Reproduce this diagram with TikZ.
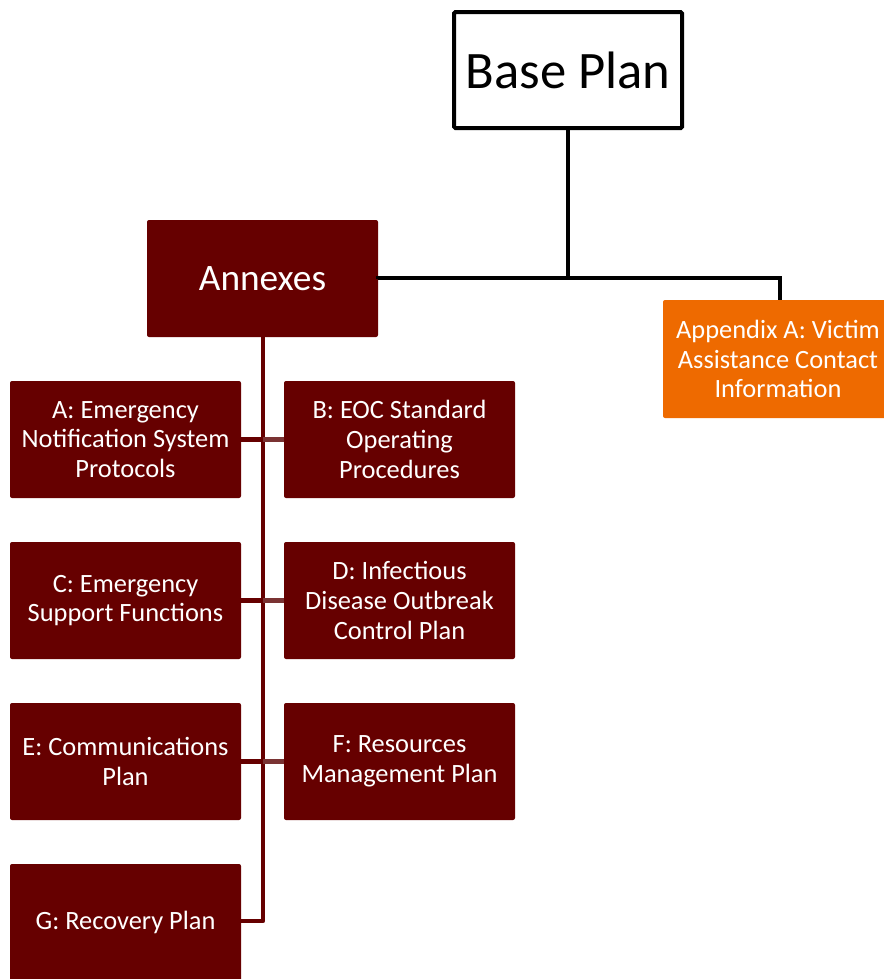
\documentclass[tikz,border=0pt]{standalone}
\usepackage{fontspec}
\setmainfont{Carlito}
\definecolor{maroon}{HTML}{660000}
\definecolor{maroonlt}{HTML}{7A3333}
\definecolor{orangebox}{HTML}{EE6A00}
\begin{document}
\begin{tikzpicture}[x=0.75pt,y=-0.75pt,
  darkbox/.style={fill=maroon,draw=none,rounded corners=1.5pt,text=white,align=center,
    font=\fontsize{19.8}{22.2}\selectfont,inner sep=0pt,
    minimum width=173.25pt,minimum height=87.75pt},
  orbox/.style={fill=orangebox,draw=none,rounded corners=1.5pt,text=white,align=center,
    font=\fontsize{19.8}{22.2}\selectfont,inner sep=0pt},
  blackline/.style={draw=black,line width=3pt},
  redline/.style={draw=maroon,line width=3.2pt},
  redlinelt/.style={draw=maroonlt,line width=3.2pt},
]
\useasboundingbox (0,0) rectangle (884,979);
% boxes
\node[draw=black,line width=3pt,fill=white,rounded corners=1pt,inner sep=0pt,
  font=\fontsize{39.5}{44}\selectfont,minimum width=171pt,minimum height=87pt] (base) at (568,70) {Base Plan};
\node[darkbox,font=\fontsize{28}{32}\selectfont] (annex) at (262.5,278.5) {Annexes};
\node[orbox,minimum width=172.5pt,minimum height=88.5pt] (app) at (778,359) {Appendix A: Victim\\Assistance Contact\\Information};

\node[darkbox] (a) at (125.5,439.5) {A: Emergency\\Notification System\\Protocols};
\node[darkbox] (b) at (399.5,439.5) {B: EOC Standard\\Operating\\Procedures};
\node[darkbox] (c) at (125.5,600.5) {C: Emergency\\Support Functions};
\node[darkbox] (d) at (399.5,600.5) {D: Infectious\\Disease Outbreak\\Control Plan};
\node[darkbox] (e) at (125.5,761.5) {E: Communications\\Plan};
\node[darkbox] (f) at (399.5,761.5) {F: Resources\\Management Plan};
\node[darkbox] (g) at (125.5,922.5) {G: Recovery Plan};

% coordinates
\coordinate (j1) at (568,278);
\coordinate (j2) at (780,278);
\coordinate (t0) at (263,337);
\coordinate (tab) at (263,439.5);
\coordinate (tcd) at (263,600.5);
\coordinate (tef) at (263,761.5);
\coordinate (tg) at (263,921);

% black connectors
\draw[blackline] (base.south) -- (j1);
\draw[blackline] (annex.east) -- (j2 -| annex.east) -- (j2) -- (app.north -| j2);

% red trunk
\draw[redline,line join=round] (annex.south -| t0) -- (tg) -- (g.east |- tg);
\draw[redline] (a.east) -- (tab);
\draw[redlinelt] (tab) -- (b.west);
\draw[redline] (c.east) -- (tcd);
\draw[redlinelt] (tcd) -- (d.west);
\draw[redline] (e.east) -- (tef);
\draw[redlinelt] (tef) -- (f.west);
\end{tikzpicture}
\end{document}
